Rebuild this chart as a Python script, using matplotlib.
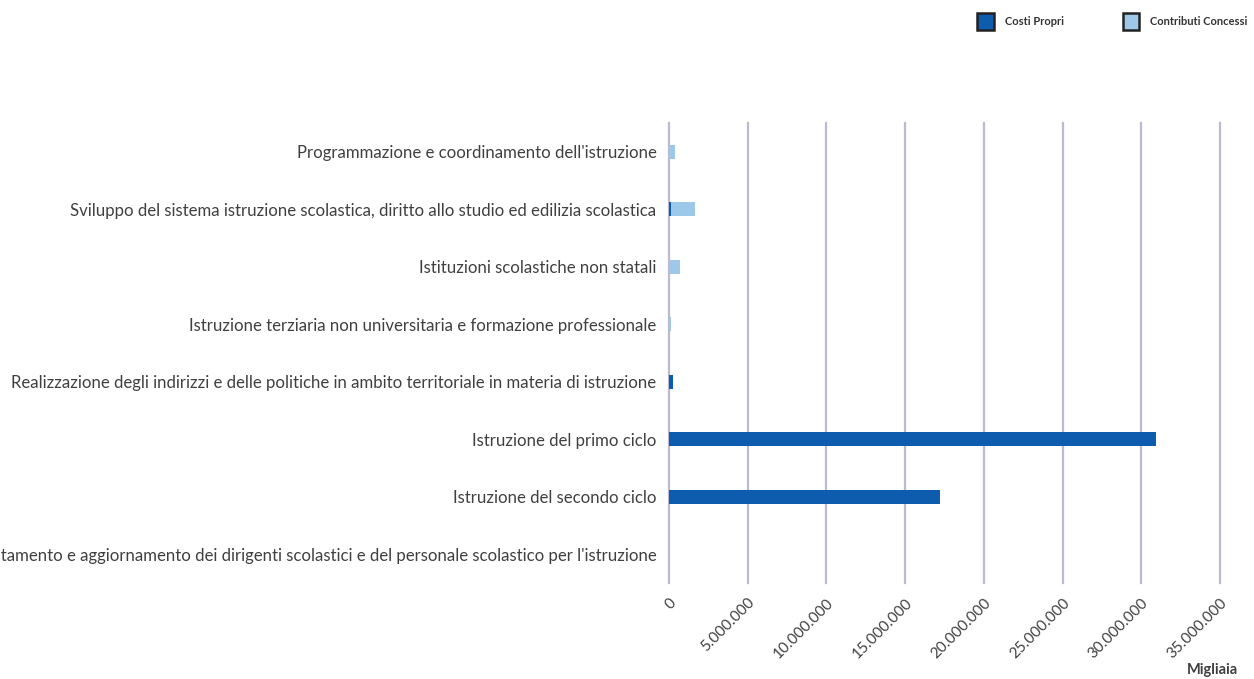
import matplotlib.pyplot as plt
from matplotlib.patches import Patch
from matplotlib.ticker import FuncFormatter

# categorie (dall'alto verso il basso)
categorie = [
    "Programmazione e coordinamento dell'istruzione",
    "Sviluppo del sistema istruzione scolastica, diritto allo studio ed edilizia scolastica",
    "Istituzioni scolastiche non statali",
    "Istruzione terziaria non universitaria e formazione professionale",
    "Realizzazione degli indirizzi e delle politiche in ambito territoriale in materia di istruzione",
    "Istruzione del primo ciclo",
    "Istruzione del secondo ciclo",
    "Reclutamento e aggiornamento dei dirigenti scolastici e del personale scolastico per l'istruzione",
]

costi_propri = [0, 150000, 0, 0, 270000, 30950000, 17200000, 20000]
contributi_concessi = [380000, 1500000, 700000, 100000, 0, 0, 0, 0]

col_costi = "#0e5cad"
col_contr = "#9dc8ea"

fig = plt.figure(figsize=(12.54, 6.79), dpi=100)
ax = fig.add_axes([0.5335, 0.1414, 0.4395, 0.6775])

y = list(range(len(categorie)))
ax.barh(y, costi_propri, height=0.25, color=col_costi, zorder=3)
ax.barh(y, contributi_concessi, left=costi_propri, height=0.25, color=col_contr, zorder=3)

ax.set_xlim(0, 35000000)
ax.set_ylim(7.5, -0.5)
ax.set_xticks(range(0, 35000001, 5000000))
ax.xaxis.set_major_formatter(FuncFormatter(lambda v, p: f"{int(v):,}".replace(",", ".")))
ax.grid(axis="x", color="#bcbad3", linewidth=1.6, zorder=0)
for gl in ax.get_xgridlines():
    gl.set_clip_on(False)
for s in ax.spines.values():
    s.set_visible(False)

ax.set_yticks(y)
ax.set_yticklabels(categorie, fontsize=12.1, color="#404040", family="Lato")
ax.tick_params(axis="y", length=0, pad=9)
ax.tick_params(axis="x", length=0, pad=9, labelsize=11, labelcolor="#404040")
for lab in ax.get_xticklabels():
    lab.set_rotation(45)
    lab.set_ha("right")
    lab.set_va("top")
    lab.set_rotation_mode("anchor")
    lab.set_family("Lato")

fig.text(0.987, 0.003, "Migliaia", ha="right", va="bottom", fontsize=10.5, fontweight="bold",
         color="#404040", family="Lato")

handles = [Patch(facecolor=col_costi, edgecolor="#222222", linewidth=1.8, label="Costi Propri"),
           Patch(facecolor=col_contr, edgecolor="#222222", linewidth=1.8, label="Contributi Concessi")]
leg = fig.legend(handles=handles, loc="upper right", bbox_to_anchor=(1.003, 0.995), ncol=2,
                 frameon=False, prop={"size": 8, "weight": "bold", "family": "Lato"},
                 handlelength=1.5, handleheight=1.9, columnspacing=5.3, handletextpad=1.0)
for t in leg.get_texts():
    t.set_color("#333333")

fig.savefig("out.png", dpi=100)
